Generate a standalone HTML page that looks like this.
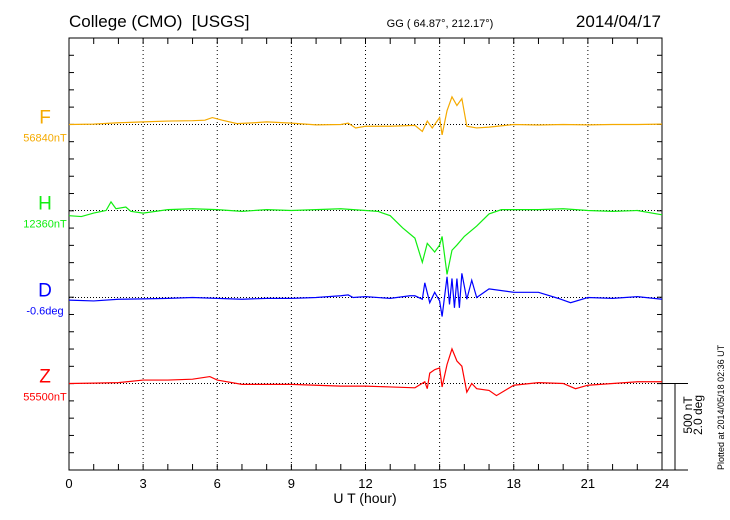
<!DOCTYPE html>
<html><head><meta charset="utf-8"><style>
body{margin:0;background:#fff;}
svg{display:block;font-family:"Liberation Sans",sans-serif;}
text{white-space:pre;}
</style></head><body>
<svg id="chart" width="730" height="520">
<text x="69" y="27" font-size="17" xml:space="preserve">College (CMO)  [USGS]</text>
<text x="440" y="27" font-size="11" text-anchor="middle">GG ( 64.87°, 212.17°)</text>
<text x="661" y="27" font-size="17" text-anchor="end">2014/04/17</text>
<text x="365" y="503" font-size="14" text-anchor="middle">U T (hour)</text>
<text transform="translate(692,415) rotate(-90)" font-size="12" text-anchor="middle">500 nT</text>
<text transform="translate(702,415) rotate(-90)" font-size="12" text-anchor="middle">2.0 deg</text>
<text transform="translate(724,470) rotate(-90)" font-size="9">Plotted at 2014/05/18 02:36 UT</text>
<g id="g"></g>
</svg>
<script>
const xTicks=[0,3,6,9,12,15,18,21,24];
const fT=[0,1,2,3,4,5,5.5,5.8,6.2,6.8,7.5,8,9,10,11,11.3,11.6,12,13,14,14.3,14.5,14.7,15,15.1,15.3,15.5,15.7,15.9,16.1,16.5,17,18,19,20,21,22,23,24];
const fV=[0,2,10,15,20,22,25,40,25,5,10,15,8,-2,0,8,-20,-10,-10,-5,-40,20,-20,40,-60,80,160,110,150,-10,-20,-15,0,-3,0,-2,0,0,2];
const hT=[0,0.5,1,1.5,1.7,1.9,2.3,2.5,3,4,5,6,7,8,9,10,11,12,12.5,13,13.5,14,14.3,14.5,14.8,15,15.1,15.3,15.5,15.7,16,16.5,17,17.5,18,19,20,21,22,23,24];
const hV=[-30,-35,-15,0,50,10,20,-5,-15,5,10,5,-5,5,0,5,10,0,-5,-30,-100,-160,-300,-190,-240,-200,-150,-370,-230,-200,-150,-90,-20,5,5,5,10,0,-5,0,-25];
const dT=[0,1,2,3,4,5,6,7,8,9,10,11,11.3,11.5,12,13,13.8,14,14.3,14.4,14.6,14.8,15,15.1,15.3,15.4,15.5,15.6,15.7,15.8,15.9,16.1,16.3,16.5,17,18,19,19.8,20.3,21,22,23,24];
const dV=[-15,-20,-10,-8,-5,0,-5,-10,-5,-5,0,10,15,0,5,-5,10,10,-10,85,-30,30,-20,-110,120,-40,110,-60,110,-60,140,-10,100,0,50,30,30,-5,-30,0,-5,5,-10];
const zT=[0,1,2,3,4,5,5.7,6,7,8,9,10,11,12,13,14,14.4,14.5,14.6,14.8,15,15.1,15.3,15.5,15.7,15.9,16.1,16.3,16.5,17,17.3,18,19,20,20.5,21,22,23,24];
const zV=[0,2,5,20,20,25,40,20,-5,-5,-5,-10,-15,-15,-20,-25,10,-30,60,80,90,-20,110,200,130,100,-50,0,-30,-40,-70,-10,5,0,-30,-10,0,10,10];
const L=69,R=662,T=38,B=470,step=17.28;
const X=t=>L+(R-L)*t/24;
const Y=(base,v)=>base-v*step/100;
const g=document.getElementById('g');
const NS='http://www.w3.org/2000/svg';
function mk(tag,a){const e=document.createElementNS(NS,tag);for(const k in a)e.setAttribute(k,a[k]);g.appendChild(e);return e;}
xTicks.slice(1,-1).forEach(t=>{const e=mk('line',{x1:X(t),x2:X(t),y1:T,y2:B,stroke:'#000','stroke-width':1,'stroke-dasharray':'1,3'});

});
const series=[['F','56840nT','#f5aa00',124.5,fT,fV],['H','12360nT','#11ee11',210.5,hT,hV],['D','-0.6deg','#0000ff',297.5,dT,dV],['Z','55500nT','#ff0000',383.5,zT,zV]];
series.forEach(s=>{const e=mk('line',{x1:L,x2:R,y1:s[3],y2:s[3],stroke:'#000','stroke-dasharray':'1,2'});

});
const bx=mk('rect',{x:L,y:T,width:R-L,height:B-T,fill:'none',stroke:'#000'});


for(let h=0;h<=24;h++){mk('line',{x1:X(h),x2:X(h),y1:B,y2:B-6,stroke:'#000'});mk('line',{x1:X(h),x2:X(h),y1:T,y2:T+6,stroke:'#000'});}
for(let i=1;i<25;i++){const y=T+i*step;mk('line',{x1:L,x2:L+5,y1:y,y2:y,stroke:'#000'});mk('line',{x1:R,x2:R-5,y1:y,y2:y,stroke:'#000'});}
xTicks.forEach(t=>{const e=mk('text',{x:X(t),y:488,'font-size':13,'text-anchor':'middle'});e.textContent=t;

});
mk('line',{x1:R,x2:688,y1:383.5,y2:383.5,stroke:'#000'});
mk('line',{x1:675,x2:675,y1:383.5,y2:470,stroke:'#000'});
mk('line',{x1:R,x2:688,y1:470,y2:470,stroke:'#000'});
series.forEach(s=>{
const p=mk('polyline',{points:s[4].map((t,i)=>X(t)+','+Y(s[3],s[5][i])).join(' '),fill:'none',stroke:s[2],'stroke-width':1.2});


const a=mk('text',{x:45,y:s[3]-1,'font-size':19,fill:s[2],'text-anchor':'middle'});a.textContent=s[0];


const b=mk('text',{x:45,y:s[3]+17,'font-size':11,fill:s[2],'text-anchor':'middle'});b.textContent=s[1];


});
</script>
</body></html>
